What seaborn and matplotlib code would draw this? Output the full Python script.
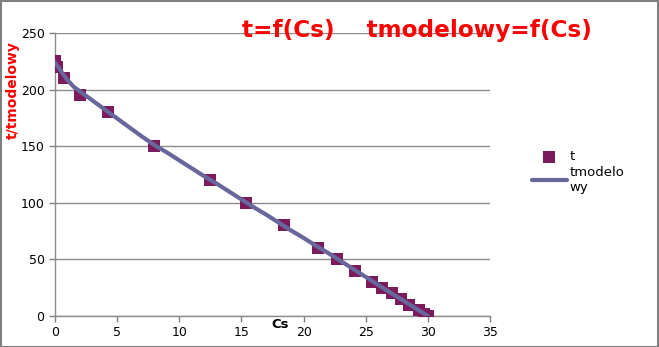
import matplotlib
matplotlib.use("Agg")
import matplotlib.pyplot as plt
import seaborn as sns
import pandas as pd
from matplotlib.patches import Rectangle

# measured data (t = f(Cs))
cs_meas = [0.0, 0.2, 0.7, 2.0, 4.3, 8.0, 12.5, 15.4, 18.4, 21.2, 22.7, 24.1,
           25.5, 26.3, 27.1, 27.8, 28.5, 29.3, 29.7, 30.0]
t_meas = [225, 220, 210, 195, 180, 150, 120, 100, 80, 60, 50, 40,
          30, 25, 20, 15, 10, 5, 2, 0]

# model curve (tmodelowy = f(Cs))
cs_model = [0, 0.25, 0.5, 1, 1.5, 2, 3, 4, 5, 6, 7, 8, 9, 10, 11, 12, 13, 14, 15,
            16, 17, 18, 19, 20, 21, 22, 23, 24, 25, 26, 27, 28, 29, 30]
t_model = [224, 220, 216, 208.5, 202.5, 198.5, 190.5, 182.5, 174.5, 166.5, 158.5,
           151, 144.5, 137.5, 130.5, 123.5, 117, 110, 103, 96, 89.5, 82.5, 75.5,
           69, 62, 55.5, 48.5, 41.5, 34.5, 27.5, 20.5, 13.8, 6.9, 0]

x_ticks = [0, 5, 10, 15, 20, 25, 30, 35]
y_ticks = [0, 50, 100, 150, 200, 250]

meas = pd.DataFrame({"Cs": cs_meas, "t": t_meas})
model = pd.DataFrame({"Cs": cs_model, "t": t_model})

sns.set_theme(style="white")
plt.rcParams["font.family"] = ["DejaVu Sans"]

fig = plt.figure(figsize=(6.59, 3.47), dpi=100)
ax = fig.add_axes([55 / 659, 31 / 347, 435 / 659, 283 / 347])

mcol = "#7b1a5c"
lcol = "#67679b"

sns.scatterplot(data=meas, x="Cs", y="t", ax=ax, marker="s", s=64, color=mcol,
                edgecolor=mcol, linewidth=0, label="t", zorder=3)
sns.lineplot(data=model, x="Cs", y="t", ax=ax, color=lcol, linewidth=3,
             label="tmodelo\nwy", zorder=4, sort=False)

ax.set_xlim(0, 35)
ax.set_ylim(0, 250)
ax.set_xticks(x_ticks)
ax.set_yticks(y_ticks)
ax.tick_params(axis="both", labelsize=9, colors="#808080", labelcolor="black",
               length=4, width=1, direction="out", bottom=True, left=True)
ax.grid(axis="y", color="#8c8c8c", linewidth=1)
ax.set_axisbelow(True)
for s in ["top", "right"]:
    ax.spines[s].set_visible(False)
for s in ["left", "bottom"]:
    ax.spines[s].set_color("#8c8c8c")
    ax.spines[s].set_linewidth(1)

ax.set_xlabel("")
ax.set_ylabel("")
fig.text(280 / 659, 1 - 324 / 347, "Cs", fontsize=9.5, fontweight="bold",
         ha="center", va="center", color="black")
fig.text(13 / 659, 1 - 90 / 347, "t/tmodelowy", fontsize=10, fontweight="bold",
         rotation=90, ha="center", va="center", color="#ff0000")
fig.text(417 / 659, 1 - 31 / 347, "t=f(Cs)    tmodelowy=f(Cs)", fontsize=16.7,
         fontweight="bold", ha="center", va="center", color="#ff0000")

leg = ax.legend(loc="upper left", bbox_to_anchor=(527 / 659, 1 - 145 / 347),
                bbox_transform=fig.transFigure, frameon=False, fontsize=9.5,
                handlelength=2.6, handletextpad=0.2, labelspacing=0.2,
                borderaxespad=0)
for txt in leg.get_texts():
    txt.set_color("black")

fig.patches.append(Rectangle((0.5 / 659, 0.5 / 347), 657.5 / 659, 345.5 / 347,
                             transform=fig.transFigure, fill=False,
                             edgecolor="#808080", linewidth=1.5))

fig.savefig("out.png", dpi=100)
